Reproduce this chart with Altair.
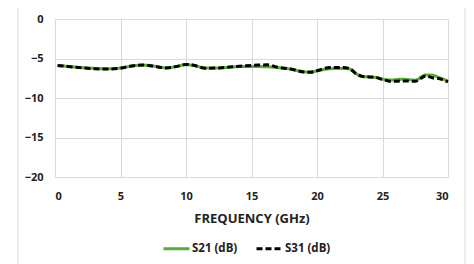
import altair as alt
import pandas as pd

freq = [0.2, 1, 2, 3, 4, 5, 6, 6.7, 7.5, 8.5, 9.3, 10, 10.5, 11.5, 12.5, 13.5, 14.5, 15.5,
        16.2, 17, 18, 19, 19.5, 20, 21, 22, 22.5, 23, 23.5, 24.5, 25, 25.7, 26.5, 27.5,
        28.3, 28.8, 29.3, 30]
s21 = [-5.88, -6.0, -6.15, -6.25, -6.3, -6.2, -5.92, -5.85, -5.96, -6.18, -6.0, -5.78, -5.85,
       -6.2, -6.2, -6.08, -6.0, -6.02, -6.05, -6.15, -6.34, -6.68, -6.72, -6.55, -6.3, -6.25,
       -6.32, -6.94, -7.27, -7.4, -7.62, -7.72, -7.62, -7.74, -7.08, -7.1, -7.4, -7.85]
s31 = [-5.88, -6.02, -6.18, -6.3, -6.34, -6.22, -5.92, -5.83, -5.96, -6.2, -6.0, -5.75, -5.83,
       -6.22, -6.2, -6.05, -5.92, -5.83, -5.8, -6.1, -6.34, -6.7, -6.74, -6.55, -6.13, -6.13,
       -6.3, -6.94, -7.27, -7.4, -7.65, -7.9, -7.84, -7.88, -7.2, -7.44, -7.55, -7.97]
series = ["S21 (dB)", "S31 (dB)"]

rows = []
for name, vals in zip(series, [s21, s31]):
    for f, v in zip(freq, vals):
        rows.append({"f": f, "v": v, "s": name})
df = pd.DataFrame(rows)

FONT = "Open Sans"

frame = alt.Chart(pd.DataFrame({"a": [0]})).mark_rect(
    fill=None, stroke="#d9d9d9", strokeWidth=1, clip=False
).encode(x=alt.value(-37), x2=alt.value(410), y=alt.value(-13), y2=alt.value(300))

lines = alt.Chart(df).mark_line(strokeWidth=3, interpolate="monotone").encode(
    x=alt.X("f:Q", title="FREQUENCY (GHz)",
            scale=alt.Scale(domain=[0, 30], nice=False),
            axis=alt.Axis(values=[0, 5, 10, 15, 20, 25, 30], labelPadding=13,
                          titlePadding=11)),
    y=alt.Y("v:Q", title=None,
            scale=alt.Scale(domain=[-20, 0], nice=False),
            axis=alt.Axis(values=[-20, -15, -10, -5, 0], labelPadding=12)),
    color=alt.Color("s:N", title=None,
                    scale=alt.Scale(domain=series, range=["#5BAA3A", "#000000"])),
    strokeDash=alt.StrokeDash("s:N", title=None,
                              scale=alt.Scale(domain=series, range=[[1, 0], [6, 3]])),
)

chart = alt.layer(frame, lines).properties(
    width=393, height=158,
    autosize=alt.AutoSizeParams(type="none"),
    padding={"left": 47, "top": 11, "right": 18, "bottom": 90},
).configure_view(stroke=None).configure_axis(
    grid=True, gridColor="#d9d9d9", gridWidth=1, domain=False, ticks=False,
    labelFont=FONT, labelFontSize=11, labelFontWeight="bold", labelColor="#222222",
    titleFont=FONT, titleFontSize=13, titleFontWeight="bold", titleColor="#222222",
).configure_legend(
    orient="none", legendX=107, legendY=215, direction="horizontal",
    symbolType="stroke", symbolSize=676, symbolStrokeWidth=3,
    labelFont=FONT, labelFontSize=11.5, labelFontWeight="bold", labelColor="#222222",
    labelOffset=1, columnPadding=12,
)

chart.save("out.html", embed_options={"renderer": "svg", "actions": False})
